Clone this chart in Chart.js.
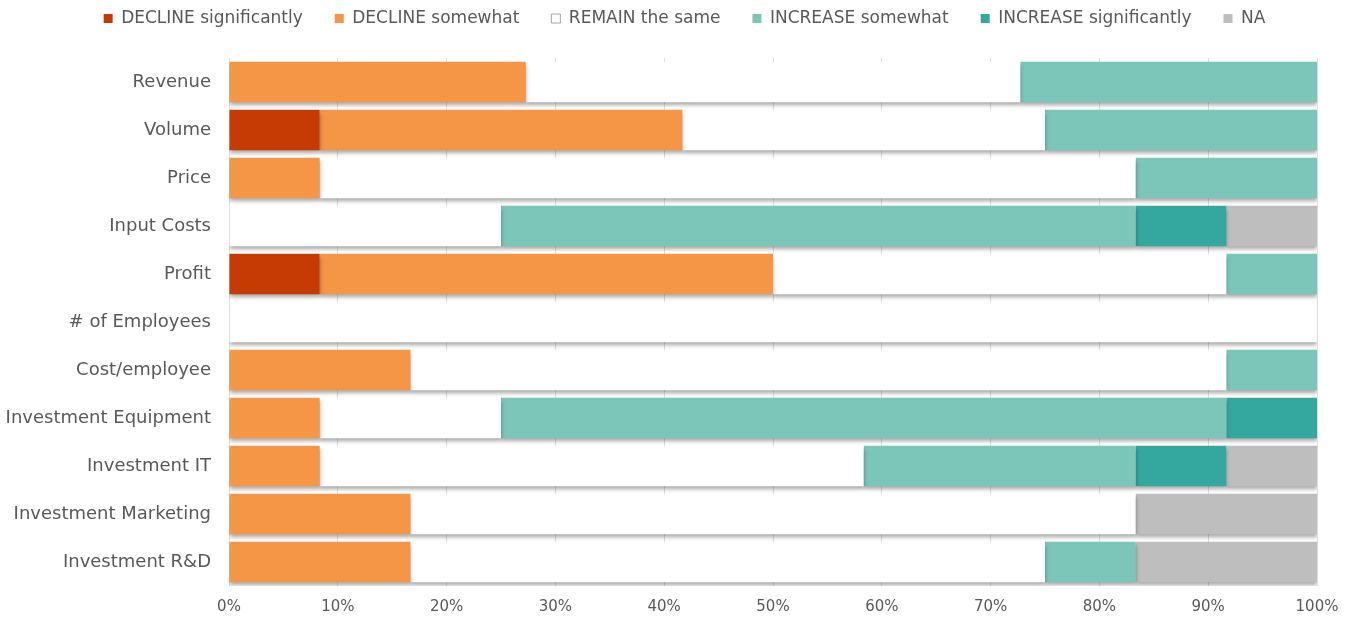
<!DOCTYPE html>
<html>
<head>
<meta charset="utf-8">
<script src="https://cdn.jsdelivr.net/npm/chart.js@4"></script>
<style>
  html, body { margin: 0; padding: 0; background: #fff; }
  #wrap { width: 1353px; height: 622px; position: relative; }
</style>
</head>
<body>
<div id="wrap"><canvas id="chart"></canvas></div>
<script>
// answers per topic, share of respondents in %
let categories = ['Revenue', 'Volume', 'Price', 'Input Costs', 'Profit', '# of Employees',
    'Cost/employee', 'Investment Equipment', 'Investment IT', 'Investment Marketing', 'Investment R&D']

let decline_sig  = [0, 8.33, 0, 0, 8.33, 0, 0, 0, 0, 0, 0]
let decline_some = [27.27, 33.33, 8.33, 0, 41.67, 0, 16.67, 8.33, 8.33, 16.67, 16.67]
let remain_same  = [45.46, 33.34, 75, 25, 41.67, 100, 75, 16.67, 50, 66.66, 58.33]
let increase_some = [27.27, 25, 16.67, 58.33, 8.33, 0, 8.33, 66.67, 25, 0, 8.33]
let increase_sig = [0, 0, 0, 8.34, 0, 0, 0, 8.33, 8.33, 0, 0]
let na_values    = [0, 0, 0, 8.33, 0, 0, 0, 0, 8.34, 16.67, 16.67]

let tick_labels = ['0%', '10%', '20%', '30%', '40%', '50%', '60%', '70%', '80%', '90%', '100%']

let font_family = "'DejaVu Sans', sans-serif"
let text_color = '#595959'

// soft drop shadow under the bars
const bar_shadow = {
    id: 'barShadow',
    beforeDatasetsDraw(chart) {
        let ctx = chart.ctx
        ctx.save()
        ctx.shadowColor = 'rgba(0,0,0,0.35)'
        ctx.shadowBlur = 4
        ctx.shadowOffsetY = 3
    },
    afterDatasetsDraw(chart) {
        chart.ctx.restore()
    }
}

// legend padding is big for the spacing between items, so give it extra room below
// and center it over x=52..1317 like the original
const legend_room = {
    id: 'legendRoom',
    beforeLayout(chart) {
        let lg = chart.legend
        if (lg && !lg._room_patched) {
            let fit = lg.fit
            lg.fit = function () {
                fit.call(this)
                this.height += 21
            }
            lg._room_patched = true
        }
    },
    afterLayout(chart) {
        if (chart.legend) chart.legend.left = 52
    }
}

function make_set(label, data, color) {
    return {
        label: label,
        data: data,
        backgroundColor: color,
        borderWidth: 0,
        barPercentage: 0.84,
        categoryPercentage: 1.0
    }
}

let chart = document.querySelector('#chart')
new Chart(chart, {
    type: 'bar',
    data: {
        labels: categories,
        datasets: [
            make_set('DECLINE significantly', decline_sig, '#C63A03'),
            make_set('DECLINE somewhat', decline_some, '#F59647'),
            make_set('REMAIN the same', remain_same, '#FFFFFF'),
            make_set('INCREASE somewhat', increase_some, '#7BC6B9'),
            make_set('INCREASE significantly', increase_sig, '#34A89E'),
            make_set('NA', na_values, '#BEBEBE')
        ]
    },
    options: {
        indexAxis: 'y',
        responsive: true,
        maintainAspectRatio: false,
        animation: false,
        layout: { padding: { left: 0, right: 36, top: -22, bottom: -6 } },
        plugins: {
            tooltip: { enabled: false },
            legend: {
                position: 'top',
                labels: {
                    boxWidth: 9,
                    boxHeight: 9,
                    padding: 32,
                    color: text_color,
                    font: { family: font_family, size: 17 },
                    generateLabels(chart) {
                        let items = Chart.defaults.plugins.legend.labels.generateLabels(chart)
                        items.forEach(item => {
                            if (item.text == 'REMAIN the same') {
                                item.strokeStyle = '#A6A6A6'
                                item.lineWidth = 1
                            }
                        })
                        return items
                    }
                }
            }
        },
        scales: {
            x: {
                stacked: true,
                min: 0,
                max: 100,
                grid: { color: '#DEDEDE', drawTicks: false },
                border: { display: false },
                ticks: {
                    stepSize: 10,
                    padding: 12,
                    color: text_color,
                    font: { family: font_family, size: 15 },
                    callback: (v, i) => tick_labels[i]
                }
            },
            y: {
                stacked: true,
                grid: { display: false },
                border: { display: false },
                ticks: {
                    padding: 10,
                    color: text_color,
                    font: { family: font_family, size: 18 }
                },
                afterFit(scale) { scale.width = 229 }
            }
        }
    },
    plugins: [bar_shadow, legend_room]
})
</script>
</body>
</html>
